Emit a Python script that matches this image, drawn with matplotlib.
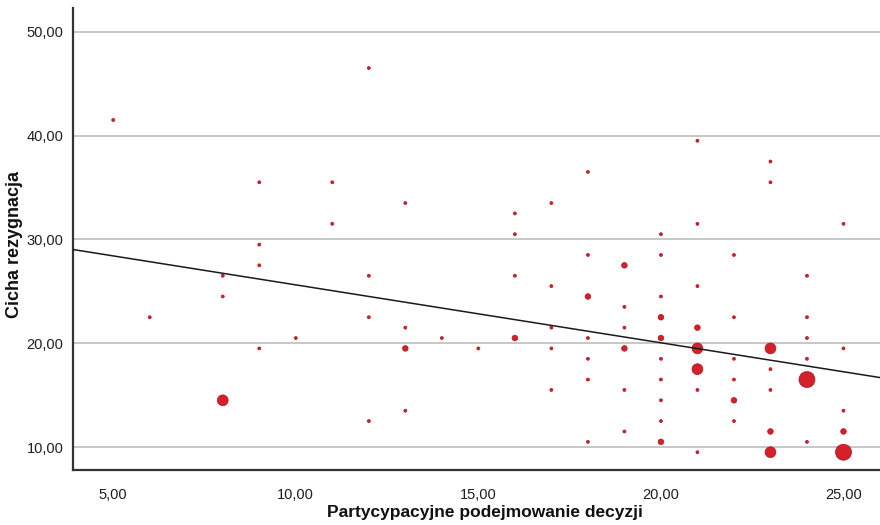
import matplotlib
matplotlib.use("Agg")
import matplotlib.pyplot as plt
from matplotlib.ticker import FuncFormatter
import numpy as np

# data (x, y, number of cases)
x_vals = [5, 12, 9, 11, 13, 11, 9,
          16, 16, 17, 18, 20, 21, 21, 23, 23, 25, 18, 20, 22,
          9, 8, 12, 8, 6, 12, 13, 10, 9, 13, 8, 13, 12,
          19, 16, 24, 17, 21, 18, 20, 19, 20, 22, 24, 17, 19, 21,
          14, 16, 18, 20, 24, 15, 17, 19, 21, 23, 25,
          18, 20, 22, 24, 21, 23, 18, 20, 22, 24,
          17, 19, 21, 23, 20, 22, 25, 20, 22, 19, 23, 25,
          18, 20, 24, 21, 23, 25]
y_vals = [41.5, 46.5, 35.5, 35.5, 33.5, 31.5, 29.5,
          32.5, 30.5, 33.5, 36.5, 30.5, 39.5, 31.5, 37.5, 35.5, 31.5, 28.5, 28.5, 28.5,
          27.5, 26.5, 26.5, 24.5, 22.5, 22.5, 21.5, 20.5, 19.5, 19.5, 14.5, 13.5, 12.5,
          27.5, 26.5, 26.5, 25.5, 25.5, 24.5, 24.5, 23.5, 22.5, 22.5, 22.5, 21.5, 21.5, 21.5,
          20.5, 20.5, 20.5, 20.5, 20.5, 19.5, 19.5, 19.5, 19.5, 19.5, 19.5,
          18.5, 18.5, 18.5, 18.5, 17.5, 17.5, 16.5, 16.5, 16.5, 16.5,
          15.5, 15.5, 15.5, 15.5, 14.5, 14.5, 13.5, 12.5, 12.5, 11.5, 11.5, 11.5,
          10.5, 10.5, 10.5, 9.5, 9.5, 9.5]
counts = [1, 1, 1, 1, 1, 1, 1,
          1, 1, 1, 1, 1, 1, 1, 1, 1, 1, 1, 1, 1,
          1, 1, 1, 1, 1, 1, 1, 1, 1, 2, 4, 1, 1,
          2, 1, 1, 1, 1, 2, 1, 1, 2, 1, 1, 1, 1, 2,
          1, 2, 1, 2, 1, 1, 1, 2, 4, 4, 1,
          1, 1, 1, 1, 4, 1, 1, 1, 1, 6,
          1, 1, 1, 1, 1, 2, 1, 1, 1, 1, 2, 2,
          1, 2, 1, 1, 4, 6]

# fit line
fit_intercept = 31.2
fit_slope = -0.558

xticks = [5, 10, 15, 20, 25]
yticks = [10, 20, 30, 40, 50]

plt.rcParams['font.family'] = ['Liberation Sans', 'DejaVu Sans']

fig = plt.figure(figsize=(8.8, 5.25), dpi=100)
ax = fig.add_axes([0.083, 0.105, 0.917, 0.88])

# bubble diameter in px grows linearly with count
cnt = np.array(counts)
diam_px = 3.0 + 2.6 * (cnt - 1)
sizes = (diam_px * 0.72) ** 2
ax.scatter(x_vals, y_vals, s=sizes, color='#d4202b', edgecolor='#b5121c',
           linewidth=0.5, zorder=3)

xlim = (3.9, 26.0)
xl = np.array(xlim)
ax.plot(xl, fit_intercept + fit_slope * xl, color='#1a1a1a', linewidth=1.1, zorder=4)

ax.set_xlim(*xlim)
ax.set_ylim(7.8, 52.3)
ax.set_xticks(xticks)
ax.set_yticks(yticks)
fmt = FuncFormatter(lambda v, p: f"{v:.2f}".replace('.', ','))
ax.xaxis.set_major_formatter(fmt)
ax.yaxis.set_major_formatter(fmt)
ax.tick_params(axis='both', length=0, labelsize=10.5, colors='#1e1e1e')
ax.tick_params(axis='x', pad=13)
ax.tick_params(axis='y', pad=7)

ax.grid(axis='y', color='#bdbdbd', linewidth=1.2, zorder=0)
ax.set_axisbelow(True)

for side in ['top', 'right']:
    ax.spines[side].set_visible(False)
for side in ['left', 'bottom']:
    ax.spines[side].set_color('#333333')
    ax.spines[side].set_linewidth(1.6)

ax.set_xlabel('Partycypacyjne podejmowanie decyzji', fontsize=12.5, fontweight='bold',
              color='#111111', va='center')
ax.set_ylabel('Cicha rezygnacja', fontsize=13, fontweight='bold', color='#111111',
              va='center')
ax.xaxis.set_label_coords(485 / 880, 1 - 513 / 525, transform=fig.transFigure)
ax.yaxis.set_label_coords(15 / 880, 1 - 244 / 525, transform=fig.transFigure)

fig.savefig('out.png', dpi=100)
